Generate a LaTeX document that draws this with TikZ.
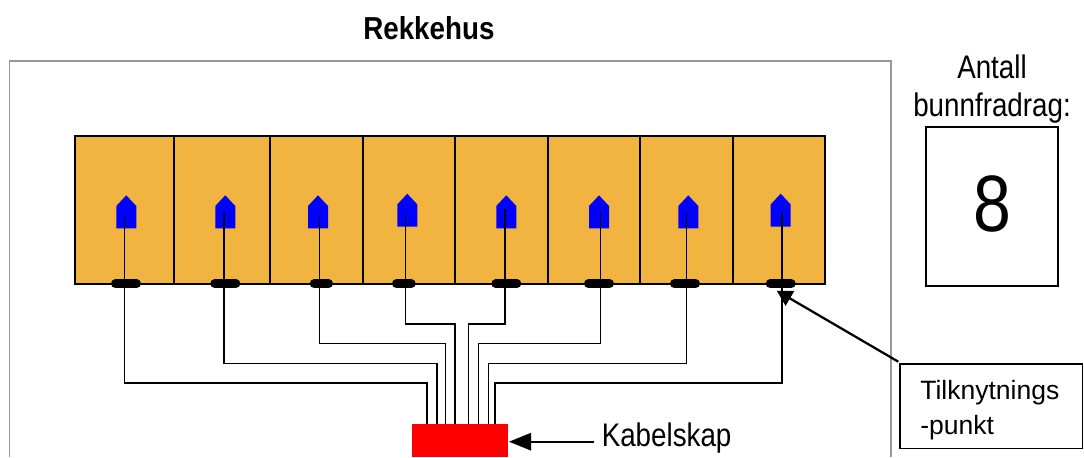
\documentclass[tikz,border=0pt]{standalone}
\usepackage{fontspec}
\usetikzlibrary{arrows.meta}
\setmainfont{Liberation Sans}
\newfontfamily\narrowf[FakeStretch=0.85]{Liberation Sans}
\newfontfamily\narrowb[FakeStretch=0.875,UprightFont=* Bold]{Liberation Sans}
\definecolor{housefill}{HTML}{F2B441}
\definecolor{framegray}{HTML}{989898}
\tikzset{
  housebox/.style={draw=black,line width=1.3pt,fill=housefill},
  roof/.style={fill=blue,draw=none},
  pill/.style={line width=6.6pt,line cap=round,draw=black},
  wire/.style={draw=black,line width=1.2pt},
  pointer/.style={draw=black,line width=1.7pt,-{Triangle[length=11.5pt,width=12.5pt]}},
  longpointer/.style={draw=black,line width=1.4pt,-{Triangle[length=16.5pt,width=13pt]}},
  cabinet/.style={fill=red,draw=none,inner sep=0pt,minimum width=72pt,minimum height=24.5pt},
  lab/.style={inner sep=0pt,anchor=base west},
}
\newcommand{\fs}[1]{\fontsize{#1}{#1}\selectfont}
\begin{document}
\begin{tikzpicture}[x=0.75pt,y=-0.75pt]
\useasboundingbox (0,0) rectangle (1084,457);
% outer frame
\draw[draw=framegray,line width=1.3pt] (9.5,457) -- (9.5,61.3) -- (891,61.3) -- (891,457);
% houses
\foreach \a/\b in {75/174,174/270,270/362.7,362.7/455.3,455.3/547.7,547.7/640,640/732.7,732.7/825.3}
  \draw[housebox] (\a,135.7) rectangle (\b,283.7);
% roofs (left, top)
\foreach \l/\t in {116.3/195.3,215.3/195.3,308/195.3,397.3/193.7,496.3/195.3,589/195.3,678.3/195.3,770.7/193.7}
  \fill[roof] (\l,\t+33) -- (\l,\t+10.7) -- (\l+10,\t) -- (\l+20,\t+10.7) -- (\l+20,\t+33) -- cycle;
% cabinet
\node[cabinet] (cab) at (460,440.35) {};
% wires
\foreach \n/\x/\t/\h/\p in {1/124.3/217.3/383/427,2/223.7/213.3/363.3/437,3/319.3/217.3/343.3/445.3,4/405.3/213.3/323.7/455,5/504.7/209.3/323.7/468.3,6/600.3/213.3/343.3/478.3,7/686.3/213.3/363.3/488.3,8/782/213.3/383/495}{
  \coordinate (w\n) at (\x,\t);
  \coordinate (c\n) at (\p,424);
  \draw[wire] (w\n) -- (\x,\h) -- (\p,\h) -- (c\n);
}
% connection points
\foreach \a/\b in {111/141,210.3/240.3,309.7/333,392/415.7,491.3/521.3,584/614,670/700,765.7/795.7}
  \draw[pill] (\a+4.4,283.7) -- (\b-4.4,283.7);
% labels and boxes
\node[lab] (title) at (363,39.5) {\fs{23.8pt}\narrowb Rekkehus};
\node[lab,anchor=base] (ant1) at (992,78.3) {\fs{24.5pt}\narrowf Antall};
\node[lab,anchor=base] (ant2) at (992,116) {\fs{24.5pt}\narrowf bunnfradrag:};
\node[draw=black,line width=1.7pt,minimum width=99.4pt,minimum height=119pt,inner sep=0pt] (count) at (992,206.3) {};
\node[lab,anchor=base] (eight) at (992,231.7) {\fs{60pt}\narrowf 8};
\node[draw=black,line width=1.2pt,minimum width=137.2pt,minimum height=63.2pt,inner sep=0pt] (tilk) at (991.2,406.2) {};
\node[lab] (t1) at (920,399) {\fs{19.9pt}Tilknytnings};
\node[lab] (t2) at (920,434.3) {\fs{19.9pt}-punkt};
\node[lab] (kab) at (601.5,446.7) {\fs{24.5pt}\narrowf Kabelskap};
% pointers
\coordinate (tip) at (776.7,290.7);
\coordinate (ptrstart) at (898.3,361.7);
\draw[pointer] (ptrstart) -- (tip);
\coordinate (kabstart) at (594.3,441.7);
\coordinate (kabtip) at (509,441.7);
\draw[longpointer] (kabstart) -- (kabtip);
\end{tikzpicture}
\end{document}
